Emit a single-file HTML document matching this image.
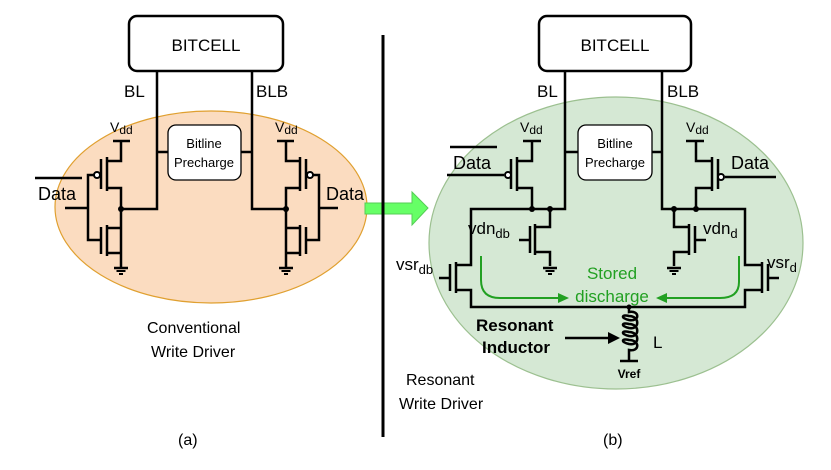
<!DOCTYPE html>
<html><head><style>html,body{margin:0;padding:0;background:#fff}svg{display:block}text{font-family:"Liberation Sans",Arial,sans-serif}</style></head>
<body>
<svg width="831" height="470" viewBox="0 0 831 470" xmlns="http://www.w3.org/2000/svg">
<defs>
<g id="gnd"><line x1="-7" y1="0" x2="7" y2="0" stroke="#000" stroke-width="2.5"/><line x1="-4.5" y1="3" x2="4.5" y2="3" stroke="#000" stroke-width="2"/><line x1="-2" y1="6" x2="2" y2="6" stroke="#000" stroke-width="2"/></g>
</defs>
<ellipse cx="211" cy="207" rx="156" ry="96" fill="#fbdcc0" stroke="#e0a030" stroke-width="1.2"/>
<ellipse cx="616" cy="243" rx="187" ry="146" fill="#d5e8d4" stroke="#9cc090" stroke-width="1.2"/>
<polygon points="365,203 412,203 412,192 428,208 412,225 412,214 365,214" fill="#66ff66" stroke="#55cc55" stroke-width="1"/>
<line x1="383" y1="35" x2="383" y2="437" stroke="#000" stroke-width="3"/>
<g fill="none" stroke="#000" stroke-width="2.5">
<rect x="129" y="16" width="154" height="55" rx="8"/>
<rect x="539" y="16" width="152" height="55" rx="8"/>
<polyline points="157,71 157,209 121,209"/>
<polyline points="252,71 252,209 286,209"/>
<line x1="157" y1="152" x2="168" y2="152"/><line x1="241" y1="152" x2="252" y2="152"/>
<line x1="113" y1="141" x2="130" y2="141"/>
<polyline points="121,141 121,161 107,161"/><line x1="107" y1="157" x2="107" y2="191"/><line x1="101" y1="159" x2="101" y2="189"/>
<polyline points="107,188 121,188 121,268"/>
<polyline points="107,228 121,228"/><line x1="107" y1="225" x2="107" y2="256"/><line x1="101" y1="227" x2="101" y2="254"/>
<polyline points="107,253 121,253"/>
<polyline points="94,175 88,175 88,240 101,240"/><line x1="65" y1="208" x2="88" y2="208"/>
<line x1="35" y1="178" x2="82" y2="178"/>
<line x1="277" y1="141" x2="294" y2="141"/>
<polyline points="286,141 286,161 300,161"/><line x1="300" y1="157" x2="300" y2="191"/><line x1="306" y1="159" x2="306" y2="189"/>
<polyline points="300,188 286,188 286,268"/>
<polyline points="300,228 286,228"/><line x1="300" y1="225" x2="300" y2="256"/><line x1="306" y1="227" x2="306" y2="254"/>
<polyline points="300,253 286,253"/>
<polyline points="313,175 319,175 319,240 306,240"/><line x1="319" y1="208" x2="338" y2="208"/>
<polyline points="565,71 565,209 471,209 471,265 456,265"/>
<polyline points="662,71 662,209 745,209 745,265 762,265"/>
<line x1="565" y1="152" x2="578" y2="152"/><line x1="652" y1="152" x2="662" y2="152"/>
<line x1="523" y1="141" x2="541" y2="141"/>
<polyline points="532,141 532,161 517,161"/><line x1="517" y1="157" x2="517" y2="191"/><line x1="511" y1="159" x2="511" y2="189"/>
<polyline points="517,188 532,188 532,209"/>
<line x1="447" y1="175" x2="504" y2="175"/><line x1="450" y1="147" x2="497" y2="147"/>
<polyline points="550,209 550,227 535,227"/><line x1="535" y1="224" x2="535" y2="255"/><line x1="530" y1="226" x2="530" y2="253"/>
<polyline points="535,252 550,252 550,266"/><line x1="519" y1="240" x2="530" y2="240"/>
<line x1="456" y1="262" x2="456" y2="293"/><line x1="450" y1="264" x2="450" y2="291"/><line x1="439" y1="278" x2="450" y2="278"/>
<polyline points="456,290 471,290 471,307 745,307 745,290 762,290"/>
<line x1="762" y1="262" x2="762" y2="293"/><line x1="768" y1="264" x2="768" y2="291"/><line x1="768" y1="278" x2="779" y2="278"/>
<line x1="686" y1="141" x2="704" y2="141"/>
<polyline points="696,141 696,161 712,161"/><line x1="712" y1="157" x2="712" y2="191"/><line x1="718" y1="159" x2="718" y2="189"/>
<polyline points="712,188 696,188 696,209"/>
<line x1="725" y1="177" x2="776" y2="177"/>
<polyline points="674,209 674,227 689,227"/><line x1="689" y1="224" x2="689" y2="255"/><line x1="695" y1="226" x2="695" y2="253"/>
<polyline points="689,252 674,252 674,266"/><line x1="695" y1="240" x2="706" y2="240"/>
<path d="M629,307 L629,312 C640,310 640,322 629,320 C620,318 622,314 629,316 C640,316 640,330 629,328 C620,326 622,322 629,324 C640,324 640,338 629,336 C620,334 622,330 629,332 C640,332 640,346 629,344 C620,342 622,338 629,340 C640,340 640,352 629,350 L629,361"/>
<line x1="620" y1="361" x2="638" y2="361"/>
<line x1="565" y1="338" x2="610" y2="338"/>
</g>
<polygon points="620,338 608,332 608,344" fill="#000"/>
<g fill="#fff" stroke="#000" stroke-width="1.3">
<rect x="168" y="125" width="73" height="55" rx="8"/>
<rect x="578" y="125" width="74" height="55" rx="8"/>
</g>
<g fill="#fff" stroke="#000" stroke-width="2">
<circle cx="97" cy="175" r="3"/><circle cx="310" cy="175" r="3"/>
<circle cx="508" cy="175" r="3"/><circle cx="721" cy="177" r="3"/>
</g>
<g fill="#000">
<circle cx="121" cy="209" r="3"/><circle cx="286" cy="209" r="3"/>
<circle cx="532" cy="209" r="3"/><circle cx="550" cy="209" r="3"/>
<circle cx="674" cy="209" r="3"/><circle cx="696" cy="209" r="3"/>
<circle cx="629" cy="307" r="2.5"/>
</g>
<use href="#gnd" x="121" y="268"/><use href="#gnd" x="286" y="268"/>
<use href="#gnd" x="550" y="268"/><use href="#gnd" x="674" y="268"/>
<g fill="none" stroke="#22a022" stroke-width="2">
<path d="M481,256 L481,280 Q481,298 500,298 L560,298"/>
<path d="M739,256 L739,282 Q739,298 720,298 L664,298"/>
</g>
<polygon points="569,298 558,293 558,303" fill="#22a022"/>
<polygon points="656,298 667,293 667,303" fill="#22a022"/>
<g font-size="17" fill="#000">
<text x="206" y="51" text-anchor="middle">BITCELL</text>
<text x="615" y="51" text-anchor="middle">BITCELL</text>
<text x="124" y="97">BL</text><text x="256" y="97">BLB</text>
<text x="537" y="97">BL</text><text x="667" y="97">BLB</text>
<text x="38" y="200" font-size="18">Data</text><text x="326" y="200" font-size="18">Data</text>
<text x="453" y="169" font-size="18">Data</text><text x="731" y="169" font-size="18">Data</text>
<text x="147" y="333" font-size="16">Conventional</text>
<text x="151" y="357" font-size="16">Write Driver</text>
<text x="406" y="385" font-size="16">Resonant</text>
<text x="399" y="409" font-size="16">Write Driver</text>
<text x="178" y="445" font-size="16">(a)</text>
<text x="603" y="445" font-size="16">(b)</text>
<text x="468" y="234">vdn<tspan font-size="13" dy="4">db</tspan></text>
<text x="703" y="234">vdn<tspan font-size="13" dy="4">d</tspan></text>
<text x="396" y="270">vsr<tspan font-size="13" dy="4">db</tspan></text>
<text x="767" y="268">vsr<tspan font-size="13" dy="4">d</tspan></text>
<text x="653" y="348">L</text>
<text x="476" y="331" font-weight="bold">Resonant</text>
<text x="482" y="353" font-weight="bold">Inductor</text>
<text x="629" y="378" font-size="12" font-weight="bold" text-anchor="middle">Vref</text>
</g>
<g font-size="14" fill="#000">
<text x="110" y="132">V<tspan font-size="12" dy="2">dd</tspan></text>
<text x="275" y="132">V<tspan font-size="12" dy="2">dd</tspan></text>
<text x="520" y="132">V<tspan font-size="12" dy="2">dd</tspan></text>
<text x="686" y="132">V<tspan font-size="12" dy="2">dd</tspan></text>
<text x="204" y="148" font-size="13" text-anchor="middle">Bitline</text>
<text x="204" y="167" font-size="13" text-anchor="middle">Precharge</text>
<text x="615" y="148" font-size="13" text-anchor="middle">Bitline</text>
<text x="615" y="167" font-size="13" text-anchor="middle">Precharge</text>
</g>
<text x="612" y="279" font-size="17" fill="#22a022" text-anchor="middle">Stored</text>
<text x="612" y="302" font-size="17" fill="#22a022" text-anchor="middle">discharge</text>
</svg>
</body></html>
